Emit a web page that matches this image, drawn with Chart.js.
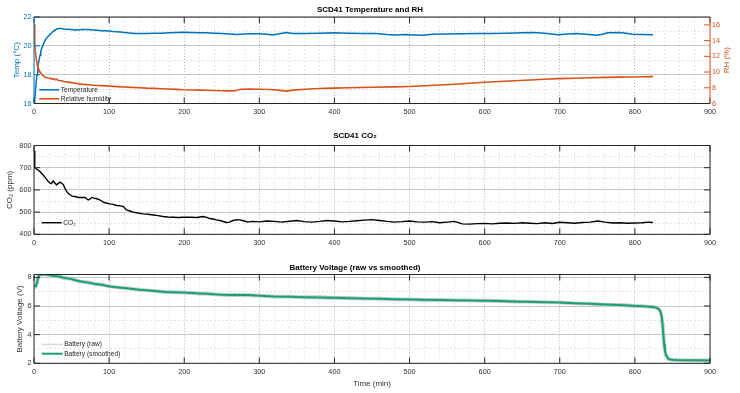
<!DOCTYPE html>
<html><head><meta charset="utf-8">
<script src="https://cdn.jsdelivr.net/npm/chart.js@4.4.1/dist/chart.umd.min.js"></script>
<style>
html,body{margin:0;padding:0;background:#fff;}
#wrap{position:relative;width:740px;height:393px;overflow:hidden;background:#fff;}
canvas{position:absolute;left:0;}
</style></head><body>
<div id="wrap">
<canvas id="c1" width="740" height="125" style="top:0px;width:740px;height:125px"></canvas>
<canvas id="c2" width="740" height="130" style="top:125px;width:740px;height:130px"></canvas>
<canvas id="c3" width="740" height="138" style="top:255px;width:740px;height:138px"></canvas>
</div>
<script>
// ---------------- data ----------------
const timeTicks = [0,100,200,300,400,500,600,700,800,900];
const tempTicks = [16,18,20,22];
const rhTicks   = [6,8,10,12,14,16];
const co2Ticks  = [400,500,600,700,800];
const batTicks  = [2,4,6,8];

const tempTime = [0,1,2,3,4,5,6,7,8,9,10,12,14,16,18,20,22,24,26,28,30,33,36,40,45,50,55,60,65,70,75,80,85,90,95,100,105,110,115,120,125,130,135,140,150,160,170,180,190,200,210,220,230,240,250,260,270,280,290,300,310,318,325,336,345,360,380,400,420,440,456,470,480,495,505,518,530,550,570,590,607,630,650,664,680,698,710,722,735,749,757,764,780,788,797,810,824];
const tempValue = [16.0,16.3,16.9,17.5,18.0,18.4,18.8,19.1,19.35,19.6,19.8,20.05,20.3,20.5,20.62,20.72,20.82,20.92,21.02,21.1,21.15,21.2,21.2,21.17,21.15,21.13,21.1,21.12,21.14,21.13,21.12,21.1,21.08,21.05,21.04,21.03,21.0,20.98,20.96,20.93,20.9,20.88,20.86,20.85,20.86,20.88,20.88,20.9,20.93,20.94,20.92,20.9,20.9,20.88,20.86,20.82,20.78,20.82,20.84,20.83,20.8,20.75,20.82,20.92,20.86,20.86,20.88,20.9,20.88,20.86,20.85,20.78,20.75,20.78,20.76,20.74,20.8,20.82,20.84,20.85,20.86,20.88,20.9,20.93,20.88,20.77,20.82,20.86,20.8,20.74,20.8,20.9,20.93,20.88,20.8,20.78,20.77];

const rhTime = [0,1,2,3,4,5,6,8,10,12,15,18,21,24,26,28,30,32,36,40,45,50,55,60,66,72,80,90,101,110,120,130,141,150,160,170,180,190,199,210,220,230,240,250,261,268,275,287,300,315,325,336,345,360,380,398,420,450,480,500,520,540,560,580,600,620,640,660,680,698,720,740,760,780,797,810,824];
const rhValue = [16.1,13.5,12.4,11.7,11.1,10.7,10.4,10.0,9.75,9.55,9.35,9.25,9.2,9.1,9.15,9.0,9.1,8.95,8.9,8.8,8.72,8.65,8.58,8.5,8.43,8.38,8.32,8.27,8.21,8.15,8.1,8.05,8.0,7.95,7.92,7.88,7.84,7.8,7.75,7.72,7.7,7.68,7.65,7.62,7.6,7.62,7.8,7.85,7.82,7.78,7.7,7.58,7.7,7.82,7.9,7.96,8.0,8.06,8.12,8.17,8.25,8.35,8.45,8.58,8.7,8.8,8.9,8.98,9.08,9.16,9.22,9.28,9.32,9.35,9.37,9.4,9.42];

const co2Time = [0,1,3,5,8,10,12,14,17,19,21,23,25.7,28,30,32,34.6,37,39,41,43.5,46,48,51,54.6,58,61,64,68,70,72.3,75,77,80,83.5,87,90,92,96,101,105,110,115,119,123,128,132,138,145,152,159,165,172,178,185,192,199,208,217,225,230,234,238,243,250,256,260,265,270,274,280,285,290,300,310,320,330,340,350,360,370,380,390,400,410,420,430,440,450,460,470,480,490,500,510,520,530,540,550,560,570,580,590,600,610,620,630,640,650,660,670,680,690,700,710,720,730,740,751,760,770,780,790,800,810,818,824];
const co2Value = [775,700,695,690,683,675,668,660,646,638,631,628,640,630,623,628,635,630,624,608,593,583,578,572,570,567,566,566,566,560,555,560,566,563,560,556,550,545,541,537,535,530,528,525,510,505,500,496,492,490,487,484,480,478,477,476,477,477,476,480,476,471,469,465,460,453,455,462,466,465,460,455,458,456,460,458,455,459,462,457,455,458,462,460,456,458,461,464,466,462,458,455,457,460,456,455,457,452,455,458,447,446,448,449,447,450,451,449,452,450,448,452,449,454,452,450,453,455,460,455,451,452,450,451,452,455,453];

const batTime = [0,2,3,5,7,10,15,20,25,30,35,40,45,50,55,60,66,70,75,80,85,90,95,101,106,110,116,120,126,132,140,150,160,168,175,185,199,210,220,230,240,250,265,285,300,320,340,360,380,400,420,440,460,480,500,520,540,560,580,607,630,650,670,700,720,740,753,770,785,797,810,820,826,829,832,834,836,837,838,839,840,842,845,850,856,870,885,900];
const batSmooth = [7.42,7.38,7.4,7.9,8.15,8.2,8.2,8.17,8.12,8.08,8.04,7.98,7.93,7.88,7.8,7.74,7.67,7.65,7.6,7.56,7.52,7.48,7.43,7.36,7.33,7.31,7.28,7.26,7.22,7.19,7.14,7.1,7.05,7.01,6.98,6.96,6.94,6.91,6.88,6.85,6.82,6.79,6.77,6.76,6.72,6.67,6.65,6.62,6.6,6.57,6.55,6.52,6.5,6.47,6.45,6.43,6.42,6.4,6.38,6.36,6.33,6.3,6.28,6.24,6.2,6.15,6.12,6.08,6.05,6.02,5.98,5.95,5.92,5.87,5.78,5.62,5.2,4.6,3.95,3.35,2.85,2.5,2.3,2.25,2.23,2.22,2.21,2.2];

const batRawTime = [0,2,4,6,8,10,15,20,25,30,40,50,60,70,80,90,100,110,120,130,140,150,160,170,180,190,200,210,220,230,240,250,260,270,280,290,300,320,340,360,380,400,420,440,460,480,500,520,540,560,580,600,620,640,660,680,700,720,740,760,780,800,810,820,826,830,833,835,837,839,841,845,850,860,880,900];
const batRaw = [7.40,7.36,7.62,8.08,8.2,8.22,8.19,8.18,8.1,8.09,7.97,7.9,7.72,7.66,7.55,7.49,7.38,7.3,7.27,7.2,7.15,7.09,7.06,7.0,6.97,6.95,6.93,6.92,6.87,6.86,6.81,6.8,6.76,6.78,6.75,6.75,6.73,6.66,6.66,6.61,6.61,6.56,6.56,6.51,6.51,6.46,6.46,6.42,6.43,6.39,6.39,6.36,6.35,6.31,6.3,6.26,6.25,6.19,6.16,6.1,6.07,6.0,5.99,5.94,5.93,5.84,5.7,5.45,4.6,3.3,2.6,2.28,2.24,2.22,2.21,2.2];

// ---------------- style ----------------
const FONT = '"Liberation Sans", Arial, Helvetica, sans-serif';
const AXC = '#262626', TXT = '#333333';
const BLUE = '#0072BD', ORANGE = '#D95319', GREEN = '#14a278';
const MAJV = '#b4b4b4', MAJH = '#c6c6c6', MINC = '#e4e4e4';
const TICKFONT = {family: FONT, size: 7.3};
const isIn = (arr, v) => arr.some(a => Math.abs(a - v) < 1e-9);
const pts = (xs, ys) => xs.map((x, i) => ({x: x, y: ys[i]}));

Chart.defaults.font.family = FONT;
Chart.defaults.color = TXT;

function xAxis(height, title) {
  return {
    type: 'linear', position: 'bottom', min: 0, max: 900,
    afterFit: s => { s.height = height; },
    ticks: {stepSize: 20, autoSkip: false, maxRotation: 0, padding: 4, color: TXT, font: TICKFONT,
      callback: v => isIn(timeTicks, v) ? String(v) : ''},
    grid: {drawTicks: false, lineWidth: 1,
      color: c => (c.tick && isIn(timeTicks, c.tick.value)) ? MAJV : MINC},
    border: {display: false,
      dash: c => (c.tick && isIn(timeTicks, c.tick.value)) ? [1, 2] : [2, 2]},
    title: title ? {display: true, text: title, color: TXT, font: {family: FONT, size: 8}, padding: {top: 0, bottom: 4.9}} : {display: false}
  };
}

function yAxis(o) {
  const onStep = v => { const k = (v - o.min) / o.step; return Math.abs(k - Math.round(k)) < 1e-6; };
  return {
    type: 'linear', position: o.pos || 'left', min: o.min, max: o.max,
    afterFit: s => { s.width = o.width; },
    ticks: {stepSize: o.step, autoSkip: false, includeBounds: false, padding: o.tickPad || 2.5, color: o.color || TXT, font: TICKFONT,
      callback: v => isIn(o.ticks, v) ? String(v) : ''},
    grid: o.grid === false ? {display: false, drawTicks: false} : {drawTicks: false, lineWidth: 1,
      color: c => {
        if (!c.tick) return MINC;
        const v = c.tick.value;
        if (isIn(o.ticks, v)) return MAJH;
        return onStep(v) ? MINC : 'rgba(0,0,0,0)';
      }},
    border: {display: false, dash: c => (c.tick && isIn(o.ticks, c.tick.value)) ? [] : [2, 2]},
    title: {display: o.ownTitle ? false : true, text: o.title, color: o.color || TXT, font: {family: FONT, size: 8}, padding: {top: o.tpad, bottom: 0}}
  };
}

function framePlugin(o) {
  return {
    id: 'frame',
    afterDatasetsDraw(chart) {
      const {ctx, chartArea: a, scales} = chart;
      const L = 6;
      ctx.save();
      ctx.lineWidth = 1;
      const seg = (x1, y1, x2, y2, c) => { ctx.strokeStyle = c; ctx.beginPath(); ctx.moveTo(x1, y1); ctx.lineTo(x2, y2); ctx.stroke(); };
      timeTicks.forEach(v => {
        const px = scales.x.getPixelForValue(v);
        seg(px, a.bottom, px, a.bottom - L, AXC);
        seg(px, a.top, px, a.top + L, AXC);
      });
      o.left.ticks.forEach(v => { const py = scales[o.left.id].getPixelForValue(v); seg(a.left, py, a.left + L, py, o.left.color); });
      o.right.ticks.forEach(v => { const py = scales[o.right.id].getPixelForValue(v); seg(a.right, py, a.right - L, py, o.right.color); });
      seg(a.left, a.top, a.right, a.top, AXC);
      seg(a.left, a.bottom, a.right, a.bottom, AXC);
      seg(a.left, a.top, a.left, a.bottom, o.left.color);
      seg(a.right, a.top, a.right, a.bottom, o.right.color);
      ctx.restore();
    },
    afterDraw(chart) {
      if (!o.rightTitle) return;
      const {ctx, chartArea: a, scales} = chart;
      const sc = scales[o.right.id];
      ctx.save();
      ctx.translate(a.right + o.rightTitle.dx, (a.top + a.bottom) / 2);
      ctx.rotate(-Math.PI / 2);
      ctx.font = '8px ' + FONT;
      ctx.fillStyle = o.right.color;
      ctx.textAlign = 'center';
      ctx.textBaseline = 'middle';
      ctx.fillText(sc.options.title.text, 0, 0);
      ctx.restore();
    }
  };
}

function legendPlugin(o) {
  return {
    id: 'lgd',
    afterDatasetsDraw(chart) {
      const {ctx, chartArea: a} = chart;
      ctx.save();
      ctx.font = '6.6px ' + FONT;
      ctx.textBaseline = 'middle';
      ctx.textAlign = 'left';
      chart.data.datasets.forEach((ds, i) => {
        const y = a.bottom - o.fromBottom + i * o.dy;
        const x = a.left + o.dx;
        ctx.strokeStyle = ds.borderColor;
        ctx.lineWidth = o.lw ? o.lw[i] : ds.borderWidth;
        ctx.beginPath(); ctx.moveTo(x, y); ctx.lineTo(x + o.len, y); ctx.stroke();
        ctx.fillStyle = AXC;
        ctx.fillText(ds.label, x + o.len + 1.5, y);
      });
      ctx.restore();
    }
  };
}

function titleOpts(text, top, bottom) {
  return {display: true, text: text, color: '#000', font: {family: FONT, size: 8, weight: 'bold', lineHeight: '10px'}, padding: {top: top, bottom: bottom}};
}

const common = {responsive: false, animation: false, events: [], devicePixelRatio: 1};

// ---------------- chart 1 ----------------
new Chart(document.getElementById('c1'), {
  type: 'line',
  data: {datasets: [
    {label: 'Temperature', data: pts(tempTime, tempValue), yAxisID: 'y', borderColor: BLUE, borderWidth: 1.5, pointRadius: 0, tension: 0, order: 2},
    {label: 'Relative humidity', data: pts(rhTime, rhValue), yAxisID: 'y2', borderColor: ORANGE, borderWidth: 1.6, pointRadius: 0, tension: 0, order: 1}
  ]},
  options: Object.assign({}, common, {
    layout: {padding: 0},
    plugins: {legend: {display: false}, tooltip: {enabled: false}, title: titleOpts('SCD41 Temperature and RH', 5, 2)},
    scales: {
      x: xAxis(21.5),
      y: yAxis({min: 16, max: 22, step: 1, ticks: tempTicks, color: BLUE, width: 34, title: 'Temp (°C)', tpad: 11.5}),
      y2: yAxis({pos: 'right', min: 6, max: 17, step: 2, ticks: rhTicks, color: ORANGE, width: 30, title: 'RH (%)', tpad: 9, tickPad: 2, grid: false, ownTitle: true})
    }
  }),
  plugins: [framePlugin({left: {id: 'y', ticks: tempTicks, color: BLUE}, right: {id: 'y2', ticks: rhTicks, color: ORANGE}, rightTitle: {dx: 16.5}}),
            legendPlugin({dx: 5.3, len: 20, fromBottom: 13.7, dy: 9})]
});

// ---------------- chart 2 ----------------
new Chart(document.getElementById('c2'), {
  type: 'line',
  data: {datasets: [
    {label: 'CO₂', data: pts(co2Time, co2Value), yAxisID: 'y', borderColor: '#000000', borderWidth: 1.4, pointRadius: 0, tension: 0}
  ]},
  options: Object.assign({}, common, {
    layout: {padding: {right: 30}},
    plugins: {legend: {display: false}, tooltip: {enabled: false}, title: titleOpts('SCD41 CO₂', 6, 4.5)},
    scales: {
      x: xAxis(20.7),
      y: yAxis({min: 400, max: 800, step: 50, ticks: co2Ticks, width: 34, title: 'CO₂ (ppm)', tpad: 5.2})
    }
  }),
  plugins: [framePlugin({left: {id: 'y', ticks: co2Ticks, color: AXC}, right: {id: 'y', ticks: co2Ticks, color: AXC}}),
            legendPlugin({dx: 7.7, len: 20, fromBottom: 11.6, dy: 9})]
});

// ---------------- chart 3 ----------------
new Chart(document.getElementById('c3'), {
  type: 'line',
  data: {datasets: [
    {label: 'Battery (raw)', data: pts(batRawTime, batRaw), yAxisID: 'y', borderColor: '#c8c8c8', borderWidth: 3.8, pointRadius: 0, tension: 0, order: 2},
    {label: 'Battery (smoothed)', data: pts(batTime, batSmooth), yAxisID: 'y', borderColor: GREEN, borderWidth: 2, pointRadius: 0, tension: 0, order: 1}
  ]},
  options: Object.assign({}, common, {
    layout: {padding: {right: 30}},
    plugins: {legend: {display: false}, tooltip: {enabled: false}, title: titleOpts('Battery Voltage (raw vs smoothed)', 8, 1.5)},
    scales: {
      x: xAxis(29.7, 'Time (min)'),
      y: yAxis({min: 2, max: 8.2, step: 1, ticks: batTicks, width: 34, title: 'Battery Voltage (V)', tpad: 15.2})
    }
  }),
  plugins: [framePlugin({left: {id: 'y', ticks: batTicks, color: AXC}, right: {id: 'y', ticks: batTicks, color: AXC}}),
            legendPlugin({dx: 7.7, len: 21, fromBottom: 19, dy: 9.4, lw: [1, 2]})]
});
</script>
</body></html>
